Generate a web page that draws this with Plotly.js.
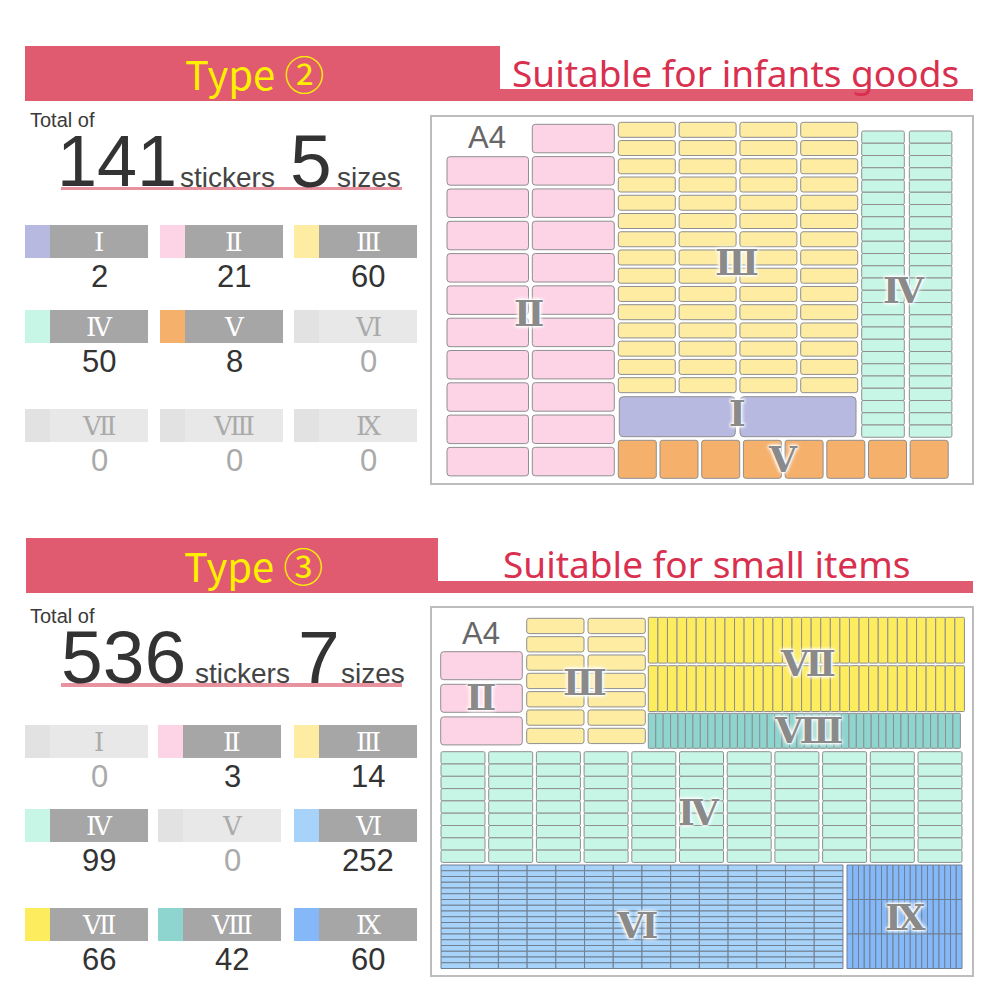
<!DOCTYPE html>
<html><head><meta charset="utf-8">
<script src="https://cdn.plot.ly/plotly-3.0.1.min.js"></script>
<style>html,body{margin:0;padding:0;background:#fff}</style>
</head><body><div id="chart" style="width:1000px;height:1000px"></div>
<script>
// ---------- DATA ----------
const sizeNames = ['Ⅰ','Ⅱ','Ⅲ','Ⅳ','Ⅴ','Ⅵ','Ⅶ','Ⅷ','Ⅸ'];
const sizeColors = ['#b8b9e1','#fdd3e6','#fdeca1','#c7f6e7','#f5b06b','#a7d3fb','#fdec5d','#8ed4cf','#84b8f9'];
const type2Counts = [2,21,60,50,8,0,0,0,0];
const type3Counts = [0,3,14,99,0,252,66,42,60];
const panelTitles = ['Type ②','Type ③'];
const panelSubtitles = ['Suitable for infants goods','Suitable for small items'];
const sheetName = 'A4';

// ---------- LAYOUT CONFIG (positions / styles) ----------
const panels = [
  { counts: type2Counts,
    header:{x0:25,x1:500,y0:46,y1:101,ulY0:89,ulX1:973}, titleX:254, titleY:73, sub:{x:510,y:72},
    total:{y:120, bigX:117, bigY:161, bigSize:72, stX:178, stY:177, szX:311, swX:335, ulY0:187, ulY1:190},
    grid:{cols:[25,160,294], rows:[225,310,409], w:123, h:33, sw:25, numOff:51},
    sheet:{x0:431,x1:973,y0:116,y1:484, a4x:487, a4y:137},
    blocks:[
      {s:1,x:447,y:156.7,w:81.5,h:28.5,px:85,py:32.3,cols:1,rows:10,r:3},
      {s:1,x:532.3,y:124.3,w:82,h:28.5,px:85,py:32.3,cols:1,rows:11,r:3},
      {s:2,x:618.3,y:122.3,w:57,h:15,px:60.8,py:18.24,cols:4,rows:15,r:2.5},
      {s:0,x:619.3,y:396.7,w:116,h:40,px:120.7,py:0,cols:2,rows:1,r:4},
      {s:4,x:618.3,y:440.3,w:38,h:38,px:41.7,py:0,cols:8,rows:1,r:2.5},
      {s:3,x:861.7,y:131,w:42.6,h:12.25,px:47.6,py:12.25,cols:2,rows:25,r:1.5}
    ],
    labels:[{s:1,x:529,y:313},{s:2,x:737,y:262},{s:3,x:904,y:290},{s:0,x:737,y:413},{s:4,x:783,y:459}]
  },
  { counts: type3Counts,
    header:{x0:26,x1:438,y0:538,y1:593,ulY0:581,ulX1:973}, titleX:253, titleY:565, sub:{x:501,y:563},
    total:{y:616, bigX:123, bigY:657, bigSize:75, stX:193, stY:673, szX:319, swX:339, ulY0:683, ulY1:687},
    grid:{cols:[25,158,294], rows:[725,809,908], w:123, h:33, sw:25, numOff:51},
    sheet:{x0:431,x1:973,y0:607,y1:976, a4x:481, a4y:633},
    blocks:[
      {s:1,x:440.7,y:651.7,w:81.6,h:28,px:0,py:32.6,cols:1,rows:3,r:3},
      {s:2,x:526.7,y:618.3,w:57.3,h:15.3,px:61.3,py:18.33,cols:2,rows:7,r:2.5},
      {s:6,x:648.3,y:617.3,w:9.58,h:45.8,px:9.58,py:48.4,cols:33,rows:2,r:1},
      {s:7,x:648.3,y:713.3,w:7.43,h:35,px:7.43,py:0,cols:42,rows:1,r:0.8},
      {s:3,x:441,y:751.7,w:44,h:12.3,px:47.7,py:12.3,cols:11,rows:9,r:1.5},
      {s:5,x:441,y:865,w:28.71,h:5.75,px:28.71,py:5.75,cols:14,rows:18,r:0},
      {s:8,x:847,y:865,w:5.75,h:34.5,px:5.75,py:34.5,cols:20,rows:3,r:0}
    ],
    labels:[{s:1,x:481,y:697},{s:2,x:585,y:682},{s:6,x:808,y:663},{s:7,x:808,y:730},{s:3,x:699,y:812},{s:5,x:637,y:925},{s:8,x:905,y:917}]
  }
];

const RED = '#e05a70', TXTRED = '#d9304f', YEL = '#fff000';
const GRAYBOX = '#a6a6a6', OFFBOX = '#e8e8e8', OFFSW = '#e2e2e2';
const STROKE = '#8f8f8f';
const SANS = 'Liberation Sans, Arial, sans-serif';
const ROMAN = 'DejaVu Serif, Noto Sans CJK JP, serif';

function rr(x0,y0,x1,y1,r){
  if(r<=0) return `M${x0},${y0} H${x1} V${y1} H${x0} Z`;
  return `M${x0+r},${y0} H${x1-r} Q${x1},${y0} ${x1},${y0+r} V${y1-r} Q${x1},${y1} ${x1-r},${y1} H${x0+r} Q${x0},${y1} ${x0},${y1-r} V${y0+r} Q${x0},${y0} ${x0+r},${y0} Z`;
}

const shapes = [], annotations = [];
function rect(x0,y0,x1,y1,fill,line,lw){
  shapes.push({type:'rect',xref:'x',yref:'y',x0,x1,y0,y1,fillcolor:fill,line:{color:line||fill,width:lw||0},layer:'above'});
}
function ann(text,x,y,size,color,family,xa,extra){
  annotations.push(Object.assign({text,x,y,xref:'x',yref:'y',showarrow:false,xanchor:xa||'center',yanchor:'middle',
    font:{size,color,family}},extra||{}));
}

panels.forEach((p,pi)=>{
  const H=p.header;
  rect(H.x0,H.y0,H.x1,H.y1,RED);
  rect(H.x1,H.ulY0,H.ulX1,H.y1,RED);
  ann(panelTitles[pi],p.titleX,p.titleY,40,YEL,'Noto Sans CJK JP, Noto Sans, sans-serif');
  ann(panelSubtitles[pi],p.sub.x,p.sub.y,37,TXTRED,'Noto Sans, Noto Sans CJK JP, sans-serif','left');

  // totals derived from data
  const total = p.counts.reduce((a,b)=>a+b,0);
  const nSizes = p.counts.filter(v=>v>0).length;
  const T=p.total;
  rect(61,T.ulY0,402,T.ulY1,'#e8919f');
  ann('Total of',28,T.y,20,'#3a3a3a',SANS,'left');
  ann(String(total),T.bigX,T.bigY,T.bigSize,'#333',SANS);
  ann('stickers',T.stX,T.stY,28,'#444',SANS,'left');
  ann(String(nSizes),T.szX,T.bigY,75,'#333',SANS);
  ann('sizes',T.swX,T.stY,28,'#444',SANS,'left');

  // size grid
  const G=p.grid;
  p.counts.forEach((c,i)=>{
    const gx=G.cols[i%3], gy=G.rows[Math.floor(i/3)];
    const on = c>0;
    if(on){
      rect(gx,gy,gx+G.sw,gy+G.h,sizeColors[i]);
      rect(gx+G.sw,gy,gx+G.w,gy+G.h,GRAYBOX);
    } else {
      rect(gx,gy,gx+G.sw,gy+G.h,OFFSW);
      rect(gx+G.sw,gy,gx+G.w,gy+G.h,OFFBOX);
    }
    const cx = gx+(G.sw+G.w)/2;
    annotations.push({text:sizeNames[i],x:cx,y:gy+G.h/2,xref:'x',yref:'y',showarrow:false,xanchor:'center',yanchor:'middle',
      font:{size:26,color:on?'#ffffff':'#aaaaaa',family:ROMAN}});
    ann(String(c),cx,gy+G.numOff,31,on?'#333':'#aaaaaa',SANS);
  });

  // sheet
  const S=p.sheet;
  shapes.push({type:'rect',xref:'x',yref:'y',x0:S.x0,x1:S.x1,y0:S.y0,y1:S.y1,fillcolor:'#fff',line:{color:'#bdbdbd',width:2},layer:'above'});
  ann(sheetName,S.a4x,S.a4y,31,'#666',SANS);

  // stickers drawn from counts
  const remaining = p.counts.slice();
  p.blocks.forEach(b=>{
    const n = Math.min(b.cols*b.rows, remaining[b.s]);
    for(let k=0;k<n;k++){
      const ci = k % b.cols, ri = Math.floor(k / b.cols);
      const x0=b.x+ci*b.px, y0=b.y+ri*b.py;
      shapes.push({type:'path',xref:'x',yref:'y',path:rr(x0,y0,x0+b.w,y0+b.h,b.r),
        fillcolor:sizeColors[b.s],line:{color:(b.s===5||b.s===8)?'#6f7f90':STROKE,width:1},layer:'above'});
    }
    remaining[b.s]-=n;
  });
  p.labels.forEach(l=>{
    annotations.push({text:sizeNames[l.s],x:l.x,y:l.y,xref:'x',yref:'y',showarrow:false,xanchor:'center',yanchor:'middle',
      font:{size:36,color:'#8a8a8a',family:ROMAN,weight:'bold',shadow:'0 0 2px #fff, 0 0 2px #fff, 0 0 3px #fff, 0 0 4px #fff, 0 0 5px #fff'}});
  });
});

const layout = {
  width:1000,height:1000,margin:{l:0,r:0,t:0,b:0},
  paper_bgcolor:'#fff',plot_bgcolor:'#fff',showlegend:false,
  xaxis:{range:[0,1000],visible:false,fixedrange:true},
  yaxis:{range:[1000,0],visible:false,fixedrange:true},
  shapes, annotations
};
Plotly.newPlot('chart',[],layout,{staticPlot:true,displayModeBar:false});
</script></body></html>
